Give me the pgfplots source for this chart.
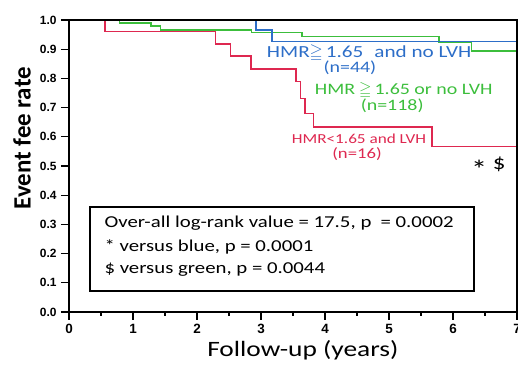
\documentclass[border=0pt]{standalone}
\usepackage{amssymb}
\usepackage{pgfplots}
\pgfplotsset{compat=1.18}
\usepackage{fontspec}
\setmainfont{Carlito}
\newfontfamily\wide[FakeStretch=1.25]{Carlito}
\newfontfamily\arialfont{Liberation Sans}
\definecolor{kmred}{RGB}{222,40,80}
\definecolor{kmgreen}{RGB}{60,190,60}
\definecolor{kmblue}{RGB}{45,110,200}
\begin{document}
\begin{tikzpicture}
\useasboundingbox (0,0) rectangle (518bp,365bp);
\begin{axis}[
  scale only axis,
  width=448bp, height=292bp,
  at={(69bp,53bp)}, anchor=south west,
  xmin=0, xmax=7, ymin=0, ymax=1,
  xtick={0,1,...,7}, minor xtick={0.5,1.5,...,6.5},
  ytick={0,0.1,...,1.0},
  yticklabel style={/pgf/number format/fixed, /pgf/number format/fixed zerofill, /pgf/number format/precision=1, xshift=-1bp, font=\arialfont\bfseries\fontsize{12}{12}\selectfont},
  /pgf/number format/assume math mode=true,
  xticklabel style={yshift=-1bp, font=\arialfont\bfseries\fontsize{13.5}{13.5}\selectfont},
  xtick pos=left, ytick pos=left,
  tick align=outside,
  major tick length=8bp, minor tick length=4bp,
  every tick/.style={black, line width=1.3pt},
  axis line style={line width=1.5pt},
  xlabel={Follow-up (years)},
  ylabel={Event fee rate},
  xlabel style={font=\wide\fontsize{22}{22}\selectfont, at={(axis description cs:0.522,-0.13)}, anchor=center},
  ylabel style={font=\bfseries\fontsize{25}{25}\selectfont, at={(axis description cs:-0.105,0.595)}, anchor=center},
  axis on top,
  clip=false,
]
\addplot[const plot, kmred, line width=1.5pt] coordinates {
(0.56,1) (0.56,0.96) (2.29,0.917) (2.52,0.877) (2.84,0.832) (3.55,0.789)
(3.62,0.732) (3.69,0.68) (3.82,0.633) (5.67,0.566) (7,0.566)};
\addplot[const plot, kmgreen, line width=1.5pt] coordinates {
(0.79,1) (0.79,0.989) (1.28,0.979) (1.43,0.966) (2.85,0.958) (3.64,0.943)
(5.78,0.924) (6.29,0.894) (7,0.894)};
\addplot[const plot, kmblue, line width=1.5pt] coordinates {
(2.92,1) (2.92,0.966) (3.17,0.926) (7,0.926)};

\node[kmblue, anchor=west, inner sep=0pt, font=\wide\fontsize{17}{17}\selectfont] at (axis cs:3.09,0.887) {HMR$\geqq$\hspace{3bp}1.65\hspace{11bp}and no LVH};
\node[kmblue, inner sep=0pt, font=\wide\fontsize{16}{16}\selectfont] at (axis cs:4.39,0.836) {(n=44)};
\node[kmgreen, anchor=west, inner sep=0pt, font=\wide\fontsize{16}{16}\selectfont] at (axis cs:3.84,0.760) {HMR\hspace{4bp}$\geqq$\hspace{3bp}1.65 or no LVH};
\node[kmgreen, inner sep=0pt, font=\wide\fontsize{16}{16}\selectfont] at (axis cs:5.05,0.705) {(n=118)};
\node[kmred, anchor=west, inner sep=0pt, font=\wide\fontsize{13.8}{13.8}\selectfont] at (axis cs:3.48,0.592) {HMR<1.65 and LVH};
\node[kmred, inner sep=0pt, font=\wide\fontsize{15}{15}\selectfont] at (axis cs:4.5,0.540) {(n=16)};
\node[font=\wide\fontsize{20}{20}\selectfont] at (axis cs:6.55,0.505) {\textasteriskcentered\ \$};

\draw[line width=1.3pt] (axis cs:0.33,0.072) rectangle (axis cs:6.33,0.36);
\node[anchor=west, font=\wide\fontsize{16.7}{16.7}\selectfont] at (axis cs:0.50,0.305) {Over-all log-rank value = 17.5,\hspace{5bp}p\hspace{9bp}= 0.0002};
\node[anchor=west, font=\wide\fontsize{16.7}{16.7}\selectfont] at (axis cs:0.50,0.223) {* versus blue, p = 0.0001};
\node[anchor=west, font=\wide\fontsize{16.7}{16.7}\selectfont] at (axis cs:0.50,0.144) {\$ versus green, p = 0.0044};
\end{axis}
\end{tikzpicture}
\end{document}
